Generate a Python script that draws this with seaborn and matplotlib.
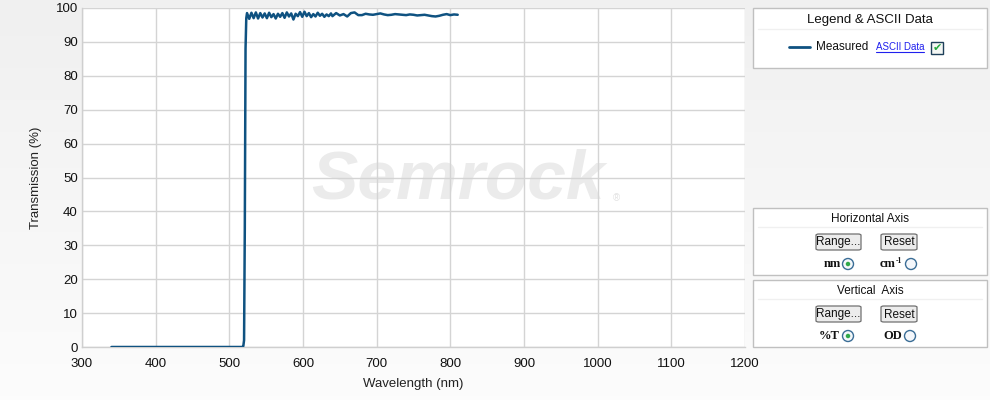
import numpy as np
import pandas as pd
import matplotlib.pyplot as plt
import seaborn as sns
from matplotlib.patches import Rectangle, Ellipse, FancyBboxPatch
from matplotlib.lines import Line2D
from matplotlib.colors import LinearSegmentedColormap

# measured transmission spectrum
wl_edge = [340, 500, 518, 519, 520, 521, 522, 523]
t_edge = [0.0, 0.0, 0.0, 0.3, 2.0, 35.0, 88.0, 97.0]

wl_ripple = [524, 527, 530, 533, 536, 539, 542, 545, 548, 551, 554, 557, 560,
             563, 566, 569, 572, 575, 578, 581, 584, 587, 590, 593, 596, 599,
             602, 605, 608, 611, 614, 617, 620, 623, 626, 629, 632, 635, 638]
t_ripple = [98.5, 96.8, 98.6, 97.0, 98.7, 96.9, 98.5, 97.2, 98.4, 97.0, 98.6,
            97.3, 98.2, 96.9, 98.3, 97.4, 98.5, 97.1, 98.7, 97.5, 98.4, 96.6,
            98.3, 97.6, 98.8, 97.4, 98.9, 97.6, 98.5, 97.3, 98.2, 97.5, 98.6,
            97.7, 98.3, 97.4, 98.1, 97.6, 98.4]

wl_tail = [640, 645, 650, 655, 660, 665, 670, 675, 680, 685, 690, 695, 700,
           705, 710, 715, 720, 725, 730, 735, 740, 745, 750, 755, 760, 765,
           770, 775, 780, 785, 790, 795, 800, 805, 810]
t_tail = [97.6, 98.5, 97.8, 98.2, 97.5, 98.5, 98.7, 97.9, 97.9, 98.3, 98.1,
          98.0, 98.2, 98.4, 98.1, 97.9, 98.0, 98.2, 98.1, 98.0, 97.9, 98.1,
          98.0, 97.8, 97.9, 98.0, 97.8, 97.6, 97.5, 97.7, 98.0, 98.2, 97.9,
          98.1, 98.0]

df = pd.DataFrame({
    'Wavelength': wl_edge + wl_ripple + wl_tail,
    'Transmission': t_edge + t_ripple + t_tail,
})

x_ticks = [300, 400, 500, 600, 700, 800, 900, 1000, 1100, 1200]
y_ticks = [0, 10, 20, 30, 40, 50, 60, 70, 80, 90, 100]

sns.set_style("whitegrid")
plt.rcParams['font.family'] = ['Liberation Sans', 'DejaVu Sans']

W, H = 990, 400
fig = plt.figure(figsize=(9.9, 4.0), dpi=100)

# light grey page background fading to white at the bottom
bg = fig.add_axes([0, 0, 1, 1], zorder=-10)
grad = np.linspace(1.0, 0.0, 100).reshape(-1, 1)
bg.imshow(grad, aspect='auto', cmap=LinearSegmentedColormap.from_list(
    'bg', ['#fcfcfc', '#f0f0f0']), extent=[0, 1, 0, 1], vmin=0, vmax=1)
bg.set_axis_off()

ax = fig.add_axes([82 / W, 1 - 347 / H, (745 - 82) / W, (347 - 8) / H])
ax.set_facecolor('white')

# watermark
ax.text(810, 49, 'Semrock', fontsize=50, fontstyle='italic', fontweight='bold',
        color='#ebebeb', ha='center', va='center', zorder=0)
ax.text(1026, 44, '®', fontsize=7, color='#e2e2e2', ha='center', va='center', zorder=0)

sns.lineplot(data=df, x='Wavelength', y='Transmission', ax=ax,
             color='#0f5281', linewidth=1.8, zorder=3)

ax.set_xlim(300, 1200)
ax.set_ylim(0, 100)
ax.set_xticks(x_ticks)
ax.set_yticks(y_ticks)
ax.grid(True, color='#d4d4d4', linewidth=1)
for side in ['top', 'right']:
    ax.spines[side].set_visible(False)
for side in ['left', 'bottom']:
    ax.spines[side].set_color('#cfcfcf')
    ax.spines[side].set_linewidth(1)
ax.tick_params(axis='both', length=0, labelsize=9.5, colors='#111111')
ax.tick_params(axis='x', pad=8)
ax.tick_params(axis='y', pad=3)
ax.set_xlabel('Wavelength (nm)', fontsize=9.5, color='#222222', labelpad=6)
ax.set_ylabel('Transmission (%)', fontsize=9.5, color='#222222', labelpad=10)


# ---- right-hand control panels ----
def px(x, y):
    return x / W, 1 - y / H


def box(x0, y0, x1, y1):
    fig.patches.append(Rectangle(px(x0, y1), (x1 - x0) / W, (y1 - y0) / H,
                                 transform=fig.transFigure, facecolor='white',
                                 edgecolor='#c0c0c0', linewidth=1))


def sep(y, x0, x1):
    fig.add_artist(Line2D([x0 / W, x1 / W], [1 - y / H] * 2,
                          color='#f0f0f0', linewidth=1))


def button(x0, y0, x1, y1, label):
    fig.patches.append(FancyBboxPatch(px(x0, y1), (x1 - x0) / W, (y1 - y0) / H,
                                      boxstyle='round,pad=0,rounding_size=0.003',
                                      transform=fig.transFigure, facecolor='#ececec',
                                      edgecolor='#707070', linewidth=0.9))
    fig.text(*px((x0 + x1) / 2, (y0 + y1) / 2 + 0.5), label, ha='center', va='center',
             fontsize=8.5, color='#111111')


def radio(x, y, on):
    fig.patches.append(Ellipse(px(x, y), 11 / W, 11 / H, transform=fig.transFigure,
                               facecolor='#f4f7fb', edgecolor='#3a6d96', linewidth=1))
    if on:
        fig.patches.append(Ellipse(px(x, y), 4.5 / W, 4.5 / H, transform=fig.transFigure,
                                   facecolor='#2fa84a', edgecolor='none'))


serif = ['Liberation Serif', 'DejaVu Serif']

# legend box
box(753, 8, 987, 68)
fig.text(*px(870, 20), 'Legend & ASCII Data', ha='center', va='center',
         fontsize=9.5, color='#111111')
sep(29, 758, 982)
fig.add_artist(Line2D([789 / W, 810 / W], [1 - 47 / H] * 2, color='#0f5281', linewidth=2))
fig.text(*px(816, 47), 'Measured', ha='left', va='center', fontsize=8.5, color='#111111')
fig.text(*px(876, 47), 'ASCII Data', ha='left', va='center', fontsize=7,
         color='#2020ee')
fig.add_artist(Line2D([876 / W, 924 / W], [1 - 52 / H] * 2, color='#2020ee', linewidth=0.8))
fig.patches.append(Rectangle(px(931, 54), 12 / W, 12 / H, transform=fig.transFigure,
                             facecolor='#f4f7f4', edgecolor='#1e3f5a', linewidth=1))
fig.text(*px(937, 48), '✔', ha='center', va='center', fontsize=8, color='#22a83a',
         family=['DejaVu Sans'])

# horizontal axis box
box(753, 208, 987, 275)
fig.text(*px(870, 219), 'Horizontal Axis', ha='center', va='center',
         fontsize=8.5, color='#111111')
sep(227, 758, 982)
button(816, 234, 861, 250, 'Range...')
button(881, 234, 917, 250, 'Reset')
fig.text(*px(841, 264), 'nm', ha='right', va='center', fontsize=9, fontweight='bold',
         family=serif, color='#111111')
radio(848, 264, True)
fig.text(*px(896, 264), 'cm', ha='right', va='center', fontsize=9, fontweight='bold',
         family=serif, color='#111111')
fig.text(*px(896, 261), '-1', ha='left', va='center', fontsize=5.5, fontweight='bold',
         family=serif, color='#111111')
radio(911, 264, False)

# vertical axis box
box(753, 280, 987, 347)
fig.text(*px(870, 291), 'Vertical  Axis', ha='center', va='center',
         fontsize=8.5, color='#111111')
sep(299, 758, 982)
button(816, 306, 861, 322, 'Range...')
button(881, 306, 917, 322, 'Reset')
fig.text(*px(840, 336), '%T', ha='right', va='center', fontsize=9, fontweight='bold',
         family=serif, color='#111111')
radio(848, 336, True)
fig.text(*px(902, 336), 'OD', ha='right', va='center', fontsize=9, fontweight='bold',
         family=serif, color='#111111')
radio(910, 336, False)

fig.savefig('out.png', dpi=100)
